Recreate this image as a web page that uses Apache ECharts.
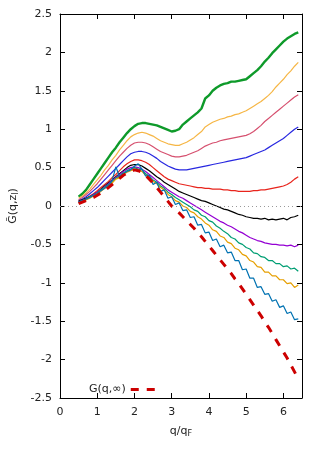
<!DOCTYPE html>
<html>
<head>
<meta charset="utf-8">
<script src="https://cdn.jsdelivr.net/npm/echarts@6/dist/echarts.min.js"></script>
<style>
  html, body { margin: 0; padding: 0; background: #fff; }
  #chart { width: 324px; height: 453px; }
</style>
</head>
<body>
<div id="chart"></div>
<script>
// q/qF sample points
const xs = [0.5, 0.6, 0.7, 0.8, 0.9, 1.0, 1.1, 1.2, 1.3, 1.4, 1.5, 1.6, 1.7, 1.8, 1.9,
    2.0, 2.1, 2.2, 2.3, 2.4, 2.5, 2.6, 2.7, 2.8, 2.9, 3.0, 3.1, 3.2, 3.3, 3.4,
    3.5, 3.6, 3.7, 3.8, 3.9, 4.0, 4.1, 4.2, 4.3, 4.4, 4.5, 4.6, 4.7, 4.8, 4.9,
    5.0, 5.1, 5.2, 5.3, 5.4, 5.5, 5.6, 5.7, 5.8, 5.9, 6.0, 6.1, 6.2, 6.3, 6.4];

const green = [0.12, 0.16, 0.21, 0.28, 0.35, 0.42, 0.49, 0.56, 0.63, 0.70, 0.76, 0.83, 0.89, 0.95, 1.00,
    1.04, 1.07, 1.08, 1.08, 1.07, 1.06, 1.05, 1.03, 1.01, 0.99, 0.97, 0.98, 1.00, 1.06, 1.10,
    1.14, 1.18, 1.22, 1.27, 1.40, 1.44, 1.50, 1.54, 1.57, 1.59, 1.60, 1.62, 1.62, 1.63, 1.64,
    1.65, 1.69, 1.73, 1.77, 1.82, 1.88, 1.93, 1.99, 2.04, 2.09, 2.14, 2.18, 2.21, 2.24, 2.26];

const yellow = [0.10, 0.13, 0.17, 0.22, 0.28, 0.34, 0.40, 0.47, 0.53, 0.60, 0.66, 0.73, 0.79, 0.85, 0.90,
    0.93, 0.95, 0.96, 0.95, 0.93, 0.91, 0.88, 0.85, 0.83, 0.81, 0.80, 0.79, 0.79, 0.81, 0.83,
    0.86, 0.89, 0.93, 0.97, 1.03, 1.06, 1.09, 1.11, 1.13, 1.14, 1.16, 1.17, 1.19, 1.20, 1.22,
    1.24, 1.27, 1.30, 1.33, 1.36, 1.40, 1.44, 1.49, 1.55, 1.60, 1.65, 1.71, 1.76, 1.82, 1.87];

const pink = [0.08, 0.11, 0.15, 0.19, 0.24, 0.29, 0.35, 0.41, 0.47, 0.53, 0.59, 0.65, 0.70, 0.75, 0.79,
    0.82, 0.83, 0.83, 0.82, 0.80, 0.77, 0.74, 0.71, 0.69, 0.67, 0.65, 0.64, 0.64, 0.65, 0.66,
    0.68, 0.70, 0.72, 0.75, 0.78, 0.80, 0.82, 0.83, 0.85, 0.86, 0.87, 0.88, 0.89, 0.90, 0.91,
    0.92, 0.94, 0.97, 1.01, 1.05, 1.10, 1.14, 1.18, 1.22, 1.26, 1.30, 1.34, 1.38, 1.42, 1.45];

const blue = [0.07, 0.09, 0.12, 0.16, 0.20, 0.24, 0.29, 0.34, 0.39, 0.44, 0.49, 0.54, 0.59, 0.64, 0.68,
    0.70, 0.71, 0.71, 0.70, 0.68, 0.65, 0.62, 0.58, 0.55, 0.52, 0.50, 0.48, 0.47, 0.47, 0.47,
    0.48, 0.49, 0.50, 0.51, 0.52, 0.53, 0.54, 0.55, 0.56, 0.57, 0.58, 0.59, 0.60, 0.61, 0.62,
    0.63, 0.65, 0.67, 0.69, 0.71, 0.73, 0.76, 0.79, 0.82, 0.85, 0.88, 0.92, 0.96, 1.00, 1.03];

const red = [0.06, 0.08, 0.10, 0.13, 0.16, 0.20, 0.24, 0.28, 0.32, 0.37, 0.41, 0.46, 0.51, 0.55, 0.58,
    0.60, 0.60, 0.59, 0.57, 0.54, 0.50, 0.46, 0.42, 0.38, 0.35, 0.33, 0.31, 0.29, 0.28, 0.27,
    0.26, 0.25, 0.24, 0.24, 0.23, 0.23, 0.22, 0.22, 0.22, 0.21, 0.21, 0.20, 0.20, 0.19, 0.19,
    0.19, 0.19, 0.20, 0.20, 0.21, 0.21, 0.22, 0.23, 0.24, 0.25, 0.26, 0.28, 0.31, 0.35, 0.38];

const black = [0.06, 0.08, 0.10, 0.12, 0.15, 0.18, 0.22, 0.26, 0.30, 0.34, 0.38, 0.42, 0.46, 0.50, 0.53,
    0.54, 0.54, 0.52, 0.49, 0.46, 0.42, 0.38, 0.35, 0.31, 0.28, 0.25, 0.22, 0.19, 0.17, 0.15,
    0.13, 0.11, 0.09, 0.07, 0.06, 0.04, 0.02, 0.00, -0.02, -0.04, -0.05, -0.07, -0.09, -0.11, -0.12,
    -0.14, -0.15, -0.16, -0.16, -0.17, -0.16, -0.18, -0.17, -0.18, -0.17, -0.16, -0.18, -0.15, -0.14, -0.12];

const purple = [0.05, 0.07, 0.09, 0.12, 0.15, 0.18, 0.21, 0.25, 0.29, 0.33, 0.37, 0.41, 0.45, 0.48, 0.50,
    0.51, 0.50, 0.48, 0.45, 0.41, 0.37, 0.33, 0.29, 0.25, 0.21, 0.18, 0.15, 0.12, 0.10, 0.07,
    0.04, 0.01, -0.02, -0.05, -0.08, -0.11, -0.14, -0.17, -0.20, -0.22, -0.25, -0.27, -0.30, -0.33, -0.35,
    -0.38, -0.41, -0.43, -0.45, -0.46, -0.48, -0.49, -0.50, -0.50, -0.51, -0.51, -0.52, -0.51, -0.53, -0.51];

const teal = [0.05, 0.07, 0.09, 0.12, 0.14, 0.17, 0.21, 0.24, 0.28, 0.31, 0.36, 0.39, 0.43, 0.46, 0.48,
    0.50, 0.48, 0.47, 0.42, 0.39, 0.34, 0.31, 0.26, 0.23, 0.18, 0.15, 0.11, 0.08, 0.05, 0.02,
    -0.01, -0.05, -0.07, -0.12, -0.14, -0.19, -0.21, -0.26, -0.29, -0.33, -0.36, -0.41, -0.43, -0.48, -0.50,
    -0.54, -0.56, -0.61, -0.62, -0.66, -0.67, -0.71, -0.71, -0.75, -0.75, -0.79, -0.78, -0.82, -0.81, -0.85];

const orange = [0.04, 0.06, 0.08, 0.10, 0.13, 0.16, 0.19, 0.23, 0.26, 0.30, 0.35, 0.37, 0.41, 0.44, 0.46,
    0.48, 0.46, 0.45, 0.40, 0.37, 0.32, 0.29, 0.24, 0.21, 0.15, 0.12, 0.07, 0.05, 0.00, -0.02,
    -0.07, -0.09, -0.14, -0.17, -0.22, -0.25, -0.31, -0.33, -0.39, -0.41, -0.47, -0.49, -0.55, -0.57, -0.63,
    -0.65, -0.71, -0.73, -0.79, -0.80, -0.86, -0.86, -0.91, -0.91, -0.96, -0.96, -1.01, -1.00, -1.06, -1.03];

const deepBlue = [0.05, 0.07, 0.09, 0.11, 0.14, 0.16, 0.20, 0.23, 0.27, 0.33, 0.51, 0.38, 0.42, 0.45, 0.47,
    0.52, 0.55, 0.48, 0.39, 0.40, 0.28, 0.31, 0.19, 0.21, 0.10, 0.12, 0.02, 0.04, -0.06, -0.05,
    -0.15, -0.14, -0.25, -0.24, -0.35, -0.34, -0.45, -0.43, -0.53, -0.51, -0.61, -0.60, -0.71, -0.71, -0.83,
    -0.82, -0.94, -0.94, -1.06, -1.05, -1.15, -1.14, -1.24, -1.22, -1.32, -1.30, -1.40, -1.38, -1.48, -1.47];

const gInf = [0.03, 0.05, 0.07, 0.09, 0.11, 0.14, 0.17, 0.20, 0.24, 0.28, 0.32, 0.36, 0.40, 0.43, 0.45,
    0.47, 0.46, 0.44, 0.40, 0.35, 0.30, 0.24, 0.18, 0.12, 0.06, 0.00, -0.05, -0.09, -0.14, -0.19,
    -0.24, -0.29, -0.35, -0.40, -0.46, -0.52, -0.58, -0.64, -0.70, -0.76, -0.82, -0.88, -0.95, -1.01, -1.08,
    -1.15, -1.22, -1.29, -1.36, -1.43, -1.51, -1.58, -1.66, -1.74, -1.82, -1.90, -1.98, -2.07, -2.16, -2.25];

const xTicks = { min: 0, max: 6.5, interval: 1 };
const yTicks = { min: -2.5, max: 2.5, interval: 0.5 };

function pairs(ys) {
    return xs.map((x, i) => [x, ys[i]]);
}

function curve(name, ys, color, width) {
    return {
        name: name,
        type: 'line',
        data: pairs(ys),
        symbol: 'none',
        smooth: false,
        lineStyle: { color: color, width: width },
        itemStyle: { color: color },
        z: 3
    };
}

const chart = echarts.init(document.getElementById('chart'));

const labelFont = { fontFamily: 'DejaVu Sans', fontSize: 11, color: '#222' };

const series = [
    curve('zl1', green, '#0e9a2a', 2.4),
    curve('zl2', yellow, '#f6b645', 1.2),
    curve('zl3', pink, '#d6506f', 1.2),
    curve('zl4', blue, '#2828e0', 1.2),
    curve('zl5', red, '#e8241c', 1.2),
    curve('zl6', black, '#000000', 1.2),
    curve('zl7', purple, '#9400d3', 1.2),
    curve('zl8', teal, '#009e73', 1.2),
    curve('zl9', orange, '#e69f00', 1.2),
    curve('zl10', deepBlue, '#0072b2', 1.2),
    {
        name: 'G(q,∞)',
        type: 'line',
        data: pairs(gInf),
        symbol: 'none',
        lineStyle: { color: '#cc0000', width: 3, type: [8, 8] },
        itemStyle: { color: '#cc0000' },
        z: 4
    }
];

// dotted zero line
series[5].markLine = {
    silent: true,
    symbol: 'none',
    label: { show: false },
    lineStyle: { color: '#999', type: [1, 3], width: 1 },
    data: [{ yAxis: 0 }]
};

const axisLine = { show: true, onZero: false, lineStyle: { color: '#000', width: 1 } };
const axisTick = { show: true, inside: true, length: 5, lineStyle: { color: '#000', width: 1 } };

const option = {
    animation: false,
    backgroundColor: '#fff',
    grid: { left: 60, right: 22, top: 14, bottom: 55 },
    legend: {
        data: ['G(q,∞)'],
        left: 84,
        top: 379,
        align: 'right',
        itemWidth: 27,
        itemHeight: 10,
        itemStyle: { color: 'transparent', borderColor: 'transparent', borderWidth: 0, opacity: 0 },
        lineStyle: { color: '#cc0000', width: 3, type: [8, 8], cap: 'butt' },
        textStyle: labelFont
    },
    xAxis: [
        {
            type: 'value', min: xTicks.min, max: xTicks.max, interval: xTicks.interval,
            axisLine: axisLine, axisTick: axisTick, splitLine: { show: false },
            axisLabel: Object.assign({ margin: 9, showMaxLabel: false }, labelFont),
            name: 'q/q{sub|F}',
            nameLocation: 'middle',
            nameGap: 26,
            nameTextStyle: Object.assign({
                rich: { sub: { fontFamily: 'DejaVu Sans', fontSize: 8, color: '#222', verticalAlign: 'bottom', padding: [6, 0, 0, 0] } }
            }, labelFont)
        },
        {
            type: 'value', position: 'top', min: xTicks.min, max: xTicks.max, interval: xTicks.interval,
            axisLine: axisLine, axisTick: axisTick, splitLine: { show: false },
            axisLabel: { show: false }
        }
    ],
    yAxis: [
        {
            type: 'value', min: yTicks.min, max: yTicks.max, interval: yTicks.interval,
            axisLine: axisLine, axisTick: axisTick, splitLine: { show: false },
            axisLabel: Object.assign({ margin: 8 }, labelFont),
            name: 'G\u0303(q,z{sub|l})',
            nameLocation: 'middle',
            nameGap: 40,
            nameTextStyle: Object.assign({
                rich: { sub: { fontFamily: 'DejaVu Sans', fontSize: 8, color: '#222', padding: [0, 0, -4, 0] } }
            }, labelFont)
        },
        {
            type: 'value', position: 'right', min: yTicks.min, max: yTicks.max, interval: yTicks.interval,
            axisLine: axisLine, axisTick: axisTick, splitLine: { show: false },
            axisLabel: { show: false }
        }
    ],
    series: series
};

chart.setOption(option);
</script>
</body>
</html>
